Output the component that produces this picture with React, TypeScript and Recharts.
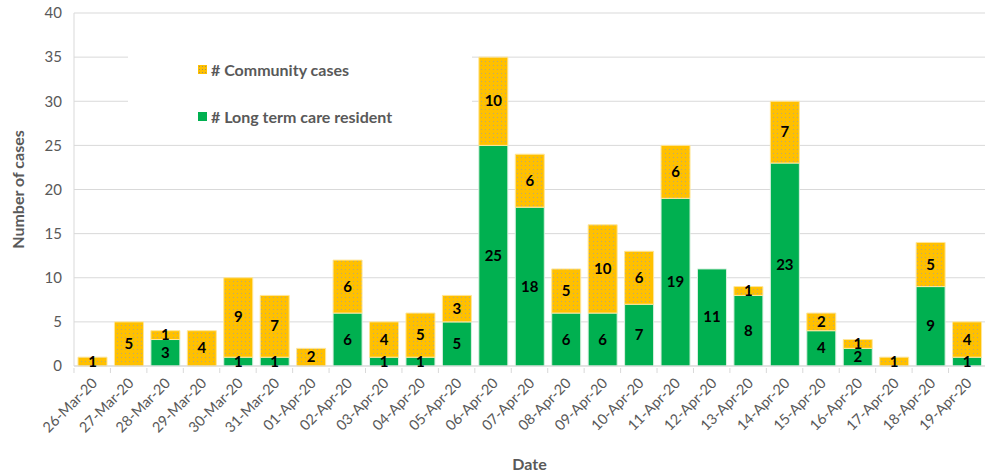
import { BarChart, Bar, XAxis, YAxis, CartesianGrid, LabelList } from "recharts";

const dates = [
  "26-Mar-20", "27-Mar-20", "28-Mar-20", "29-Mar-20", "30-Mar-20", "31-Mar-20",
  "01-Apr-20", "02-Apr-20", "03-Apr-20", "04-Apr-20", "05-Apr-20", "06-Apr-20",
  "07-Apr-20", "08-Apr-20", "09-Apr-20", "10-Apr-20", "11-Apr-20", "12-Apr-20",
  "13-Apr-20", "14-Apr-20", "15-Apr-20", "16-Apr-20", "17-Apr-20", "18-Apr-20",
  "19-Apr-20",
];
const longTermCare = [0, 0, 3, 0, 1, 1, 0, 6, 1, 1, 5, 25, 18, 6, 6, 7, 19, 11, 8, 23, 4, 2, 0, 9, 1];
const community = [1, 5, 1, 4, 9, 7, 2, 6, 4, 5, 3, 10, 6, 5, 10, 6, 6, 0, 1, 7, 2, 1, 1, 5, 4];
const yTicks = [0, 5, 10, 15, 20, 25, 30, 35, 40];

const data = dates.map((date, i) => ({
  date,
  ltc: longTermCare[i],
  community: community[i],
}));

const FONT = "Lato, 'Open Sans', sans-serif";
const GREEN = "#00b050";
const ORANGE = "#ffc000";

const barLabel = (props: any) => {
  const { x, y, width, height, value } = props;
  if (!value) return null;
  return (
    <text
      x={x + width / 2}
      y={y + height / 2}
      dy={5}
      textAnchor="middle"
      fontFamily={FONT}
      fontWeight={700}
      fontSize={15}
      fill="#000"
    >
      {value}
    </text>
  );
};

const DateTick = (props: any) => {
  const { x, y, payload } = props;
  const half = 36.46 / 2;
  return (
    <g>
      <line x1={x - half} x2={x - half} y1={y - 6} y2={y - 1} stroke="#d9d9d9" />
      <text
        x={x + 6}
        y={y + 10}
        transform={`rotate(-45 ${x + 6} ${y + 10})`}
        textAnchor="end"
        fontFamily={FONT}
        fontSize={14.5}
        fill="#595959"
      >
        {payload.value}
      </text>
    </g>
  );
};

const legendItems = [
  { name: "# Community cases", bg: ORANGE, top: 69 },
  { name: "# Long term care resident", bg: GREEN, top: 116 },
];

// legend sits on a white box that hides the gridlines behind it, like the original
const LegendBox = () => (
  <div
    style={{
      position: "absolute",
      left: 128,
      top: 32,
      width: 344,
      height: 108,
      background: "#fff",
      fontFamily: FONT,
      fontWeight: 700,
      fontSize: 16,
      color: "#595959",
    }}
  >
    {legendItems.map((it) => (
      <div
        key={it.name}
        style={{
          position: "absolute",
          left: 70,
          top: it.top - 32 - 10,
          height: 20,
          display: "flex",
          alignItems: "center",
          whiteSpace: "nowrap",
        }}
      >
        <span
          style={{
            display: "inline-block",
            width: 9,
            height: 9,
            backgroundColor: it.bg,
            backgroundImage:
              it.bg === ORANGE ? "radial-gradient(#a09060 0.5px, transparent 0.6px)" : undefined,
            backgroundSize: "3px 3px",
            marginRight: 4,
          }}
        />
        <span>{it.name}</span>
      </div>
    ))}
  </div>
);

export default function App() {
  return (
    <div style={{ position: "fixed", left: 0, top: 0, width: 985, height: 472, background: "#fff" }}>
      <BarChart
        width={985}
        height={472}
        data={data}
        margin={{ top: 13, right: 0, bottom: 0, left: 0 }}
        barSize={29}
      >
        <defs>
          <pattern id="dots" width="4" height="4" patternUnits="userSpaceOnUse">
            <rect width="4" height="4" fill={ORANGE} />
            <rect x="1" y="1" width="1" height="1" fill="#b8a878" />
          </pattern>
        </defs>
        <CartesianGrid vertical={false} stroke="#d9d9d9" />
        <XAxis
          dataKey="date"
          interval={0}
          height={106}
          tickLine={false}
          axisLine={{ stroke: "#d9d9d9" }}
          tick={<DateTick />}
          label={{
            value: "Date",
            position: "insideBottom",
            offset: 2,
            fontFamily: FONT,
            fontWeight: 700,
            fontSize: 16,
            fill: "#595959",
          }}
        />
        <YAxis
          width={74}
          domain={[0, 40]}
          ticks={yTicks}
          interval={0}
          tickLine={false}
          axisLine={{ stroke: "#d9d9d9" }}
          tick={{ fontFamily: FONT, fontSize: 15, fill: "#595959" }}
          tickMargin={6}
          label={{
            value: "Number of cases",
            angle: -90,
            position: "insideLeft",
            offset: 18,
            style: { textAnchor: "middle" },
            fontFamily: FONT,
            fontWeight: 700,
            fontSize: 16,
            fill: "#595959",
          }}
        />
        <Bar dataKey="ltc" stackId="a" fill={GREEN} stroke="#d8f0df" strokeWidth={1} isAnimationActive={false}>
          <LabelList dataKey="ltc" content={barLabel} />
        </Bar>
        <Bar dataKey="community" stackId="a" fill="url(#dots)" stroke="#ffe699" strokeWidth={1} isAnimationActive={false}>
          <LabelList dataKey="community" content={barLabel} />
        </Bar>
      </BarChart>
      <LegendBox />
    </div>
  );
}
